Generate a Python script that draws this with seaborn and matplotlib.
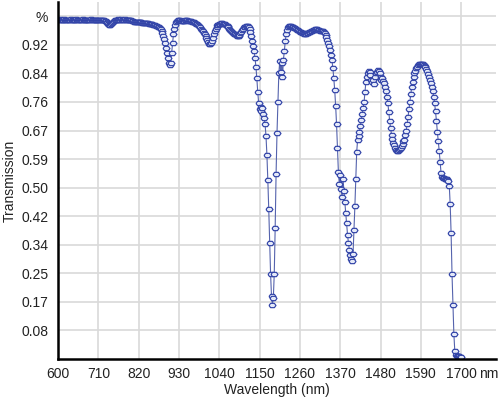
import numpy as np
import pandas as pd
import matplotlib
matplotlib.use("Agg")
import matplotlib.pyplot as plt
from matplotlib.ticker import FixedLocator, MultipleLocator
import seaborn as sns

STEP = 2.5
t_600 = [0.998, 0.998, 0.999, 0.998, 0.998, 0.997, 0.998, 0.999, 0.998, 0.998,
         0.998, 0.997, 0.998, 0.998, 0.999, 0.998, 0.998, 0.997, 0.998, 0.998,
         0.999, 0.998, 0.998, 0.998, 0.997, 0.998, 0.998, 0.999, 0.998, 0.998,
         0.998, 0.998, 0.997, 0.998, 0.998, 0.998, 0.999, 0.998, 0.998, 0.997]
t_700 = [0.998, 0.998, 0.998, 0.997, 0.998, 0.998, 0.998, 0.997, 0.997, 0.996,
         0.996, 0.995, 0.993, 0.990, 0.987, 0.984, 0.982, 0.982, 0.984, 0.988,
         0.992, 0.995, 0.997, 0.998, 0.998, 0.999, 0.998, 0.998, 0.998, 0.999,
         0.998, 0.998, 0.998, 0.999, 0.998, 0.998, 0.998, 0.997, 0.997, 0.997]
t_800 = [0.996, 0.995, 0.993, 0.992, 0.992, 0.992, 0.991, 0.991, 0.991, 0.990,
         0.990, 0.990, 0.989, 0.989, 0.989, 0.988, 0.988, 0.987, 0.987, 0.986,
         0.986, 0.985, 0.985, 0.984, 0.983, 0.982, 0.981, 0.980, 0.978, 0.976,
         0.975, 0.973, 0.970, 0.965, 0.958, 0.950, 0.940, 0.928, 0.915, 0.900]
t_900 = [0.885, 0.872, 0.864, 0.872, 0.900, 0.930, 0.955, 0.972, 0.983, 0.990,
         0.994, 0.996, 0.996, 0.996, 0.995, 0.995, 0.994, 0.994, 0.995, 0.996,
         0.996, 0.996, 0.995, 0.994, 0.994, 0.993, 0.992, 0.991, 0.990, 0.989,
         0.988, 0.986, 0.984, 0.981, 0.978, 0.975, 0.972, 0.969, 0.965, 0.960]
t_1000 = [0.955, 0.949, 0.943, 0.937, 0.931, 0.927, 0.925, 0.928, 0.935, 0.945,
          0.955, 0.964, 0.972, 0.977, 0.981, 0.983, 0.985, 0.986, 0.987, 0.987,
          0.986, 0.985, 0.984, 0.982, 0.980, 0.978, 0.975, 0.972, 0.969, 0.966,
          0.963, 0.960, 0.957, 0.955, 0.952, 0.950, 0.949, 0.950, 0.953, 0.958]
t_1100 = [0.963, 0.968, 0.972, 0.975, 0.977, 0.979, 0.980, 0.979, 0.976, 0.970,
          0.962, 0.950, 0.936, 0.920, 0.905, 0.885, 0.860, 0.825, 0.785, 0.752,
          0.735, 0.742, 0.728, 0.738, 0.722, 0.710, 0.690, 0.655, 0.600, 0.525,
          0.440, 0.340, 0.250, 0.185, 0.160, 0.180, 0.250, 0.385, 0.545, 0.665]
t_1200 = [0.755, 0.840, 0.875, 0.845, 0.870, 0.830, 0.880, 0.905, 0.935, 0.955,
          0.968, 0.976, 0.979, 0.979, 0.978, 0.977, 0.976, 0.975, 0.974, 0.973,
          0.971, 0.969, 0.967, 0.965, 0.963, 0.961, 0.960, 0.959, 0.958, 0.957,
          0.957, 0.957, 0.958, 0.960, 0.961, 0.963, 0.965, 0.966, 0.967, 0.968]
t_1300 = [0.969, 0.970, 0.970, 0.970, 0.969, 0.968, 0.966, 0.965, 0.964, 0.964,
          0.963, 0.958, 0.952, 0.946, 0.938, 0.930, 0.920, 0.908, 0.895, 0.878,
          0.855, 0.825, 0.790, 0.745, 0.690, 0.620, 0.550, 0.515, 0.540, 0.500,
          0.475, 0.530, 0.495, 0.462, 0.430, 0.400, 0.365, 0.340, 0.320, 0.305]
t_1400 = [0.293, 0.287, 0.310, 0.380, 0.450, 0.530, 0.610, 0.645, 0.655, 0.668,
          0.685, 0.703, 0.720, 0.738, 0.755, 0.785, 0.815, 0.830, 0.842, 0.848,
          0.845, 0.835, 0.822, 0.815, 0.820, 0.810, 0.830, 0.840, 0.845, 0.850,
          0.848, 0.842, 0.830, 0.822, 0.825, 0.818, 0.812, 0.800, 0.787, 0.772]
t_1500 = [0.752, 0.725, 0.700, 0.678, 0.660, 0.647, 0.636, 0.628, 0.620, 0.615,
          0.612, 0.612, 0.614, 0.617, 0.621, 0.626, 0.632, 0.640, 0.645, 0.660,
          0.672, 0.690, 0.712, 0.735, 0.755, 0.780, 0.800, 0.816, 0.830, 0.840,
          0.848, 0.855, 0.860, 0.864, 0.867, 0.868, 0.869, 0.869, 0.867, 0.865]
t_1600 = [0.862, 0.858, 0.853, 0.846, 0.838, 0.830, 0.822, 0.812, 0.800, 0.787,
          0.772, 0.752, 0.728, 0.700, 0.668, 0.640, 0.612, 0.578, 0.548, 0.536,
          0.533, 0.531, 0.530, 0.529, 0.528, 0.526, 0.524, 0.510, 0.455, 0.370,
          0.250, 0.160, 0.075, 0.025, 0.012, 0.010, 0.009, 0.008, 0.008, 0.007,
          0.007]

blocks = [(600, t_600), (700, t_700), (800, t_800), (900, t_900),
          (1000, t_1000), (1100, t_1100), (1200, t_1200), (1300, t_1300),
          (1400, t_1400), (1500, t_1500), (1600, t_1600)]

x_ticks = [600, 710, 820, 930, 1040, 1150, 1260, 1370, 1480, 1590, 1700]
y_ticks = [0.084, 0.168, 0.252, 0.336, 0.420, 0.504, 0.588, 0.672,
           0.756, 0.840, 0.924, 1.008]
y_tick_labels = ["0.08", "0.17", "0.25", "0.34", "0.42", "0.50", "0.59",
                 "0.67", "0.76", "0.84", "0.92", "%"]

wavelength = np.concatenate([start + STEP * np.arange(len(t)) for start, t in blocks])
transmission = np.concatenate([t for _, t in blocks])
df = pd.DataFrame({"wavelength": wavelength, "transmission": transmission})

sns.set_theme(style="whitegrid")
plt.rcParams["font.family"] = ["Liberation Sans", "DejaVu Sans"]

fig = plt.figure(figsize=(5.02, 3.98), dpi=100)
ax = fig.add_axes([58 / 502, 39 / 398, 438 / 502, 357 / 398])

# flat hexagon-ish marker like the instrument software draws
hex_marker = [(-1, 0), (-0.55, 0.62), (0.55, 0.62), (1, 0), (0.55, -0.62), (-0.55, -0.62), (-1, 0)]

sns.lineplot(data=df, x="wavelength", y="transmission", ax=ax,
             color="#5563ad", linewidth=0.8, marker=hex_marker, markersize=5,
             markerfacecolor="#e4e9f8", markeredgecolor="#3244a8", markeredgewidth=0.85)

ax.set_xlim(600, 1795)
ax.set_ylim(0, 1.05)
ax.xaxis.set_major_locator(FixedLocator(x_ticks))
ax.xaxis.set_minor_locator(MultipleLocator(22))
ax.yaxis.set_major_locator(FixedLocator(y_ticks))
ax.set_yticklabels(y_tick_labels)
ax.yaxis.set_minor_locator(MultipleLocator(0.0168))

ax.grid(True, which="major", color="#d9d9d9", linewidth=1.2)
ax.grid(False, which="minor")
ax.set_facecolor("white")
for side in ["top", "right"]:
    ax.spines[side].set_visible(False)
for side in ["left", "bottom"]:
    ax.spines[side].set_color("black")
    ax.spines[side].set_linewidth(1.8)

ax.tick_params(axis="both", which="major", labelsize=10, labelcolor="#222222",
               length=3, width=1.0, color="black", direction="out")
ax.tick_params(axis="both", which="minor", length=2.5, width=1.2, color="black",
               direction="out")
ax.tick_params(axis="x", which="major", pad=3)
ax.tick_params(axis="y", which="major", pad=4)

ax.set_xlabel("Wavelength (nm)", fontsize=10, color="#222222", labelpad=1)
ax.set_ylabel("Transmission", fontsize=10, color="#222222", labelpad=3)
ax.text(1776, -0.022, "nm", transform=ax.get_xaxis_transform(), ha="center", va="top",
        fontsize=10, color="#222222")

fig.savefig("out.png", dpi=100)
